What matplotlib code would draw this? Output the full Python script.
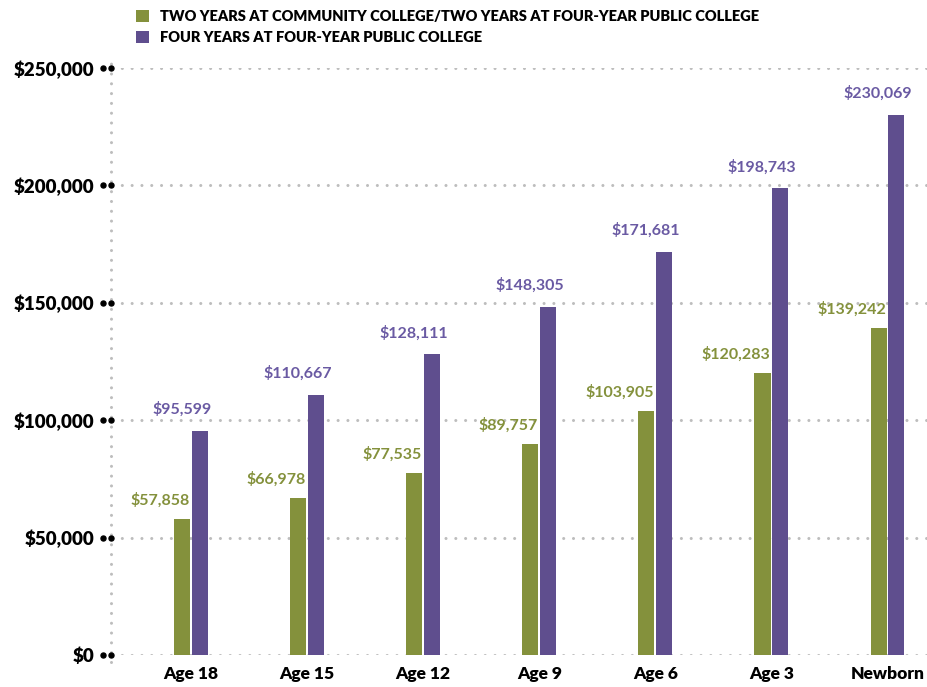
import matplotlib
matplotlib.use("Agg")
import matplotlib.pyplot as plt
from matplotlib.patches import Patch
import numpy as np

categories = ["Age 18", "Age 15", "Age 12", "Age 9", "Age 6", "Age 3", "Newborn"]
two_plus_two = [57858, 66978, 77535, 89757, 103905, 120283, 139242]
four_year = [95599, 110667, 128111, 148305, 171681, 198743, 230069]
series_names = ["TWO YEARS AT COMMUNITY COLLEGE/TWO YEARS AT FOUR-YEAR PUBLIC COLLEGE",
                "FOUR YEARS AT FOUR-YEAR PUBLIC COLLEGE"]
yticks = [0, 50000, 100000, 150000, 200000, 250000]

GREEN = "#84913c"
PURPLE = "#5f4e8e"
PURPLE_TXT = "#6a5aa3"
GRID = "#bdbdbd"

plt.rcParams['font.family'] = ['Lato', 'DejaVu Sans']

fig = plt.figure(figsize=(9.27, 6.87), dpi=100)
ax = fig.add_axes([112/927, 32/687, 1 - 112/927, (655-68)/687])

x = np.arange(len(categories))
w = 0.138
off = 0.077
ax.bar(x - off, two_plus_two, width=w, color=GREEN, zorder=3)
ax.bar(x + off, four_year, width=w, color=PURPLE, zorder=3)

for xi, g, p in zip(x, two_plus_two, four_year):
    ax.annotate(f"${g:,}", (xi - 0.01, g), xytext=(0, 8), textcoords="offset points",
                ha="right", va="bottom", color=GREEN, fontsize=11.5, fontweight="bold",
                annotation_clip=False)
    ax.annotate(f"${p:,}", (xi - 0.08, p), xytext=(0, 10), textcoords="offset points",
                ha="center", va="bottom", color=PURPLE_TXT, fontsize=11.5, fontweight="bold",
                annotation_clip=False)

ax.set_xlim(-0.68, 6.34)
ax.set_ylim(0, 250000)
ax.set_yticks(yticks)
ax.set_yticklabels([f"${v:,}" for v in yticks], fontsize=13.5, fontweight="heavy")
ax.set_xticks(x)
ax.set_xticklabels(categories, fontsize=12.5, fontweight="heavy")
ax.tick_params(axis="y", length=0, pad=13)
ax.tick_params(axis="x", length=0, pad=8)

for s in ["top", "right", "bottom", "left"]:
    ax.spines[s].set_visible(False)

dotted = (0, (0.01, 3.2))
for v in yticks:
    ax.axhline(v, color=GRID, linestyle=dotted, linewidth=2.2, zorder=1,
               dash_capstyle="round")
    ax.plot([-0.0115, -0.0015], [v, v], transform=ax.get_yaxis_transform(), ls="none",
            marker="o", markersize=3.6, color="black", clip_on=False, zorder=4)
ax.plot([-0.0015, -0.0015], [-0.012, 1.02], transform=ax.transAxes, color=GRID,
        linestyle=dotted, linewidth=2.2, clip_on=False, zorder=1,
        dash_capstyle="round")

handles = [Patch(facecolor=GREEN, edgecolor="none"), Patch(facecolor=PURPLE, edgecolor="none")]
fig.legend(handles, series_names, loc="upper left", bbox_to_anchor=(126/927, 1.0),
           frameon=False, handlelength=0.9, handleheight=0.9, handletextpad=0.7,
           labelspacing=0.55, prop={"size": 10.5, "weight": "heavy"}, borderaxespad=0.3)

fig.savefig("out.png", dpi=100)
